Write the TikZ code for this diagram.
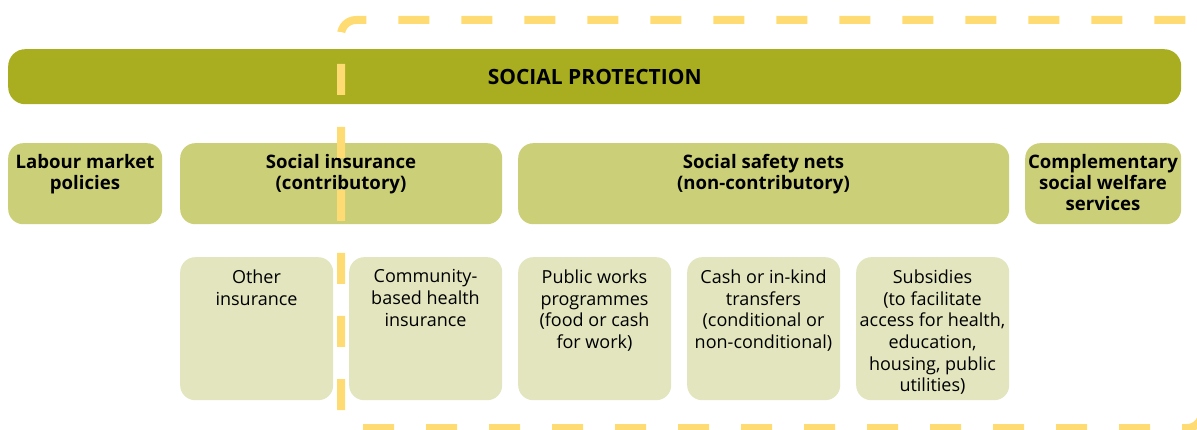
\documentclass[tikz,border=0pt]{standalone}
\usepackage{fontspec}
\setmainfont{Open Sans}
\definecolor{spOlive}{HTML}{A8AE1F}
\definecolor{spMid}{HTML}{CBCF77}
\definecolor{spPale}{HTML}{E2E5BD}
\definecolor{spDash}{HTML}{FFDC73}
\begin{document}
\begin{tikzpicture}[x=1pt,y=1pt,yscale=-1,
    bar/.style={fill=spOlive,rounded corners=17pt,anchor=north west,inner sep=0pt,minimum width=1173pt,minimum height=55pt,font=\fontsize{21}{23}\selectfont\bfseries},
    tier/.style={fill=spMid,rounded corners=15pt,anchor=north west,inner sep=0pt,minimum height=81pt},
    leaf/.style={fill=spPale,rounded corners=15pt,anchor=north west,inner sep=0pt,minimum width=153pt,minimum height=143pt},
    head/.style={anchor=north,align=center,inner sep=0pt,font=\fontsize{18.6}{21.3}\selectfont\bfseries},
    body/.style={anchor=north,align=center,inner sep=0pt,font=\fontsize{18}{21.7}\selectfont},
    dashline/.style={draw=spDash,line width=8pt,rounded corners=15pt,dash pattern=on 31pt off 32pt}]
\useasboundingbox (0,0) rectangle (1197,430);
\node[bar] (protection) at (8,49) {SOCIAL PROTECTION};
\node[tier,minimum width=154pt] (labour) at (8,143) {};
\node[tier,minimum width=322pt] (insurance) at (180,143) {};
\node[tier,minimum width=491pt] (safety) at (518,143) {};
\node[tier,minimum width=156pt] (welfare) at (1025,143) {};
\node[leaf] (other) at (180,257) {};
\node[leaf] (community) at (349,257) {};
\node[leaf] (works) at (518,257) {};
\node[leaf] (transfers) at (687,257) {};
\node[leaf] (subsidies) at (856,257) {};
\node[head] (labour-t) at (85,154) {Labour market\\policies};
\node[head] (insurance-t) at (341,154) {Social insurance\\(contributory)};
\node[head] (safety-t) at (763.5,154) {Social safety nets\\(non-contributory)};
\node[head] (welfare-t) at (1103,154) {Complementary\\social welfare\\services};
\node[body] (other-t) at (256.5,269.5) {Other\\insurance};
\node[body] (community-t) at (425.5,269.5) {Community-\\based health\\insurance};
\node[body] (works-t) at (594.5,269.5) {Public works\\programmes\\(food or cash\\for work)};
\node[body] (transfers-t) at (763.5,269.5) {Cash or in-kind\\transfers\\(conditional or\\non-conditional)};
\node[body] (subsidies-t) at (932.5,269.5) {Subsidies\\(to facilitate\\access for health,\\education,\\housing, public\\utilities)};
\begin{scope}
\clip (0,0) rectangle (1197,430);
\draw[dashline] (341,410) -- (341,20) -- (1202,20) -- (1202,200);
\draw[dashline] (363,428) -- (1202,428) -- (1202,300);
\end{scope}
\end{tikzpicture}
\end{document}
